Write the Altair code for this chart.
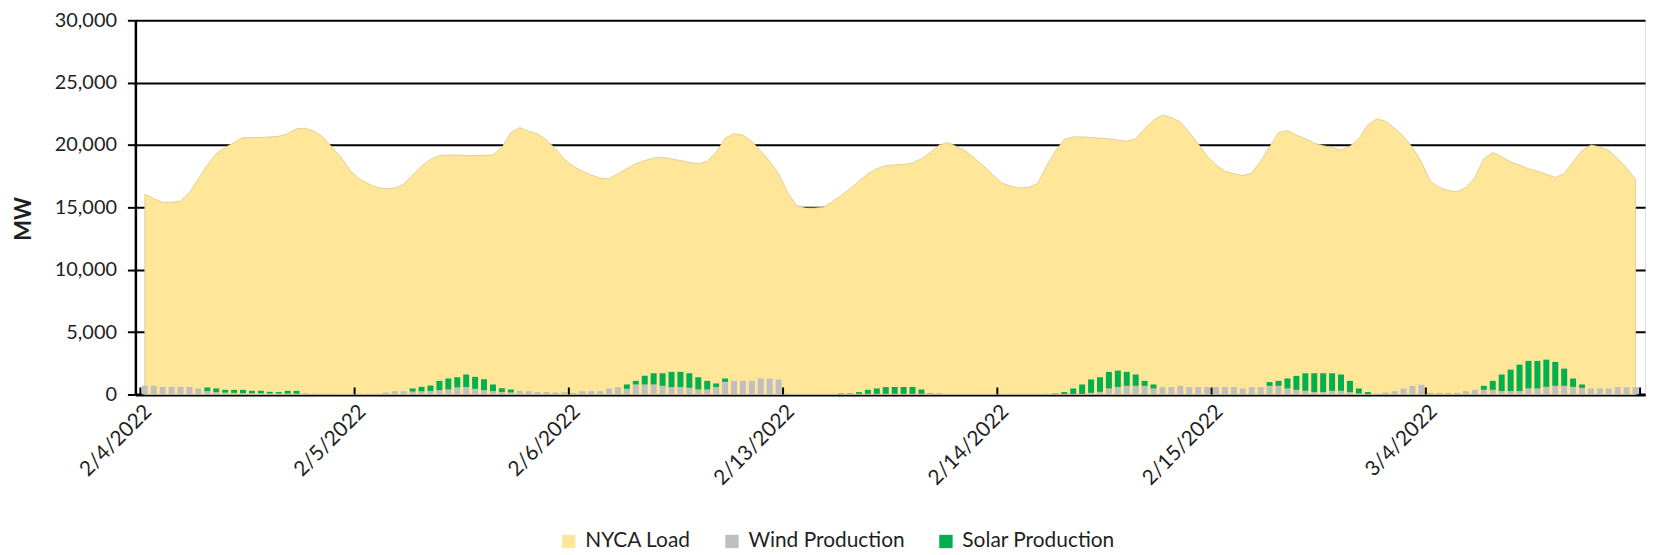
import altair as alt
import pandas as pd

# ---- data ----
days = ["2/4/2022", "2/5/2022", "2/6/2022", "2/13/2022", "2/14/2022", "2/15/2022", "3/4/2022"]
y_ticks = [0, 5000, 10000, 15000, 20000, 25000, 30000]

series_names = ["NYCA Load", "Wind Production", "Solar Production"]
series_colors = ["#FFE699", "#BFBFBF", "#00B050"]

load_mw = [
    16050, 15700, 15400, 15400, 15500, 16200, 17300, 18400, 19300, 19800, 20200, 20600,
    20600, 20600, 20650, 20700, 20900, 21300, 21350, 21100, 20600, 19800, 19000, 17950,
    17300, 16900, 16600, 16500, 16550, 16850, 17600, 18300, 18850, 19150, 19200, 19200,
    19150, 19150, 19150, 19200, 19800, 21000, 21400, 21100, 20900, 20400, 19700, 18850,
    18300, 17900, 17600, 17350, 17300, 17700, 18100, 18500, 18750, 18950, 19000, 18900,
    18750, 18600, 18500, 18700, 19400, 20550, 20900, 20800, 20300, 19500, 18700, 17700,
    16200, 15150, 14950, 14950, 15000, 15450, 15950, 16500, 17100, 17700, 18100, 18350,
    18400, 18450, 18550, 18900, 19400, 20000, 20200, 19850, 19500, 18900, 18300, 17600,
    16950, 16700, 16550, 16600, 16900, 18300, 19500, 20450, 20650, 20650, 20600, 20550,
    20500, 20400, 20300, 20500, 21300, 22000, 22400, 22200, 21850, 21000, 20100, 19100,
    18400, 17900, 17700, 17550, 17750, 18700, 19850, 21000, 21150, 20800, 20500, 20150,
    19950, 19800, 19600, 19900, 20500, 21600, 22100, 21900, 21350, 20700, 19800, 18650,
    17100, 16600, 16350, 16250, 16600, 17400, 18900, 19400, 19050, 18650, 18400, 18100,
    17900, 17650, 17400, 17700, 18650, 19550, 20000, 19850, 19550, 18900, 18150, 17250,
]

wind_mw = [
    700, 700, 600, 600, 600, 600, 480, 270, 190, 150, 130, 110,
    100, 90, 80, 70, 70, 60, 110, 70, 60, 60, 50, 50,
    60, 60, 60, 160, 260, 260, 230, 250, 280, 350, 400, 560,
    600, 450, 350, 260, 200, 160, 290, 260, 190, 190, 160, 180,
    130, 260, 260, 260, 480, 590, 450, 800, 800, 800, 690, 590,
    590, 530, 400, 400, 600, 1010, 1090, 1090, 1090, 1280, 1280, 1200,
    50, 50, 50, 50, 50, 50, 50, 50, 50, 50, 50, 50,
    50, 50, 50, 50, 50, 50, 50, 50, 50, 50, 50, 50,
    60, 60, 60, 60, 60, 60, 40, 40, 40, 40, 130, 210,
    480, 600, 690, 690, 690, 480, 590, 590, 690, 590, 590, 590,
    590, 590, 590, 480, 590, 590, 690, 690, 480, 370, 290, 190,
    190, 290, 290, 190, 80, 30, 60, 160, 260, 480, 690, 780,
    130, 130, 130, 130, 270, 370, 370, 370, 270, 270, 270, 480,
    480, 610, 690, 690, 610, 530, 480, 480, 480, 590, 590, 590,
]

solar_mw = [
    0, 0, 0, 0, 0, 0, 0, 290, 290, 220, 240, 260,
    190, 200, 130, 120, 220, 230, 0, 0, 0, 0, 0, 0,
    0, 0, 0, 0, 0, 0, 250, 360, 440, 740, 880, 820,
    1000, 960, 870, 540, 300, 240, 0, 0, 0, 0, 0, 0,
    0, 0, 0, 0, 0, 0, 350, 290, 690, 900, 1010, 1220,
    1220, 1170, 980, 690, 280, 270, 0, 0, 0, 0, 0, 0,
    0, 0, 0, 0, 0, 0, 40, 40, 140, 320, 430, 540,
    550, 550, 550, 350, 40, 20, 0, 0, 0, 0, 0, 0,
    0, 0, 0, 0, 0, 0, 40, 150, 440, 760, 1070, 1170,
    1330, 1315, 1120, 910, 400, 320, 0, 0, 0, 0, 0, 0,
    0, 0, 0, 0, 0, 0, 300, 400, 800, 1120, 1410, 1510,
    1510, 1410, 1310, 900, 400, 160, 0, 0, 0, 0, 0, 0,
    0, 0, 0, 0, 0, 0, 320, 720, 1330, 1720, 2120, 2210,
    2210, 2180, 1920, 1380, 670, 270, 0, 0, 0, 0, 0, 0,
]

# ---- tables ----
n = len(load_mw)
hour = list(range(n))
hours_per_day = n // len(days)

load_df = pd.DataFrame({"hour": hour, "mw": load_mw, "series": series_names[0]})
bars_df = pd.concat([
    pd.DataFrame({"hour": hour, "mw": wind_mw, "series": series_names[1], "ord": 1}),
    pd.DataFrame({"hour": hour, "mw": solar_mw, "series": series_names[2], "ord": 2}),
], ignore_index=True)
bounds = [d * hours_per_day - 0.5 for d in range(len(days) + 1)]
bounds_df = pd.DataFrame({"b": bounds})

FONT = "Lato"
TXT = "#1f1f1f"
W, H = 1517, 376

x_scale = alt.Scale(domain=[-0.5, n - 0.5], nice=False, zero=False)
y_scale = alt.Scale(domain=[0, 30000], nice=False)

label_expr = "[" + ",".join("'%s'" % d for d in days) + "][round((datum.value + 0.5) / %d)]" % hours_per_day

x_axis = alt.Axis(
    values=bounds[:-1], labelExpr=label_expr, labelAngle=-45, labelAlign="right",
    labelBaseline="top", labelPadding=6, labelFont=FONT, labelFontSize=21, labelColor=TXT,
    ticks=False, grid=False, domainColor="black", domainWidth=3, title=None,
    labelOverlap=False, labelBound=False, labelFlush=False,
)
y_axis = alt.Axis(
    values=y_ticks, format=",d", labelFont=FONT, labelFontSize=20, labelColor=TXT,
    labelPadding=11, tickSize=8, tickColor="black", tickWidth=2,
    domainColor="black", domainWidth=2.5, grid=True, gridColor="black", gridWidth=2,
    title="MW", titleFont=FONT, titleFontSize=22, titleFontWeight="bold", titleColor=TXT,
    titleAngle=-90, titleX=-112, titleY=H / 2 + 11, titleAlign="center", titleBaseline="middle",
)

color = alt.Color(
    "series:N",
    scale=alt.Scale(domain=series_names, range=series_colors),
    legend=alt.Legend(
        orient="none", legendX=425, legendY=513, direction="horizontal", title=None,
        symbolType="square", symbolSize=180, symbolStrokeWidth=0, labelFont=FONT,
        labelFontSize=21, labelColor=TXT, labelOffset=6, columnPadding=30, padding=0,
    ),
)

area = alt.Chart(load_df).mark_area(stroke="#D8C88E", strokeWidth=0.8).encode(
    x=alt.X("hour:Q", scale=x_scale, axis=x_axis),
    y=alt.Y("mw:Q", scale=y_scale, axis=y_axis),
    color=color,
)

bars = alt.Chart(bars_df).mark_bar(width=6).encode(
    x=alt.X("hour:Q", scale=x_scale),
    y=alt.Y("mw:Q", scale=y_scale, stack="zero"),
    color=color,
    order=alt.Order("ord:Q"),
)

ticks = alt.Chart(bounds_df).mark_rule(color="black", strokeWidth=2).encode(
    x=alt.X("b:Q", scale=x_scale),
    y=alt.value(H - 7),
    y2=alt.value(H),
)

chart = alt.layer(area, bars, ticks).properties(
    width=W, height=H,
    autosize=alt.AutoSizeParams(type="none"),
    padding={"left": 128, "top": 11, "right": 8, "bottom": 160},
).configure_view(stroke=None).configure(background="white")

chart.save("out.html", embed_options={"renderer": "svg", "actions": False})
